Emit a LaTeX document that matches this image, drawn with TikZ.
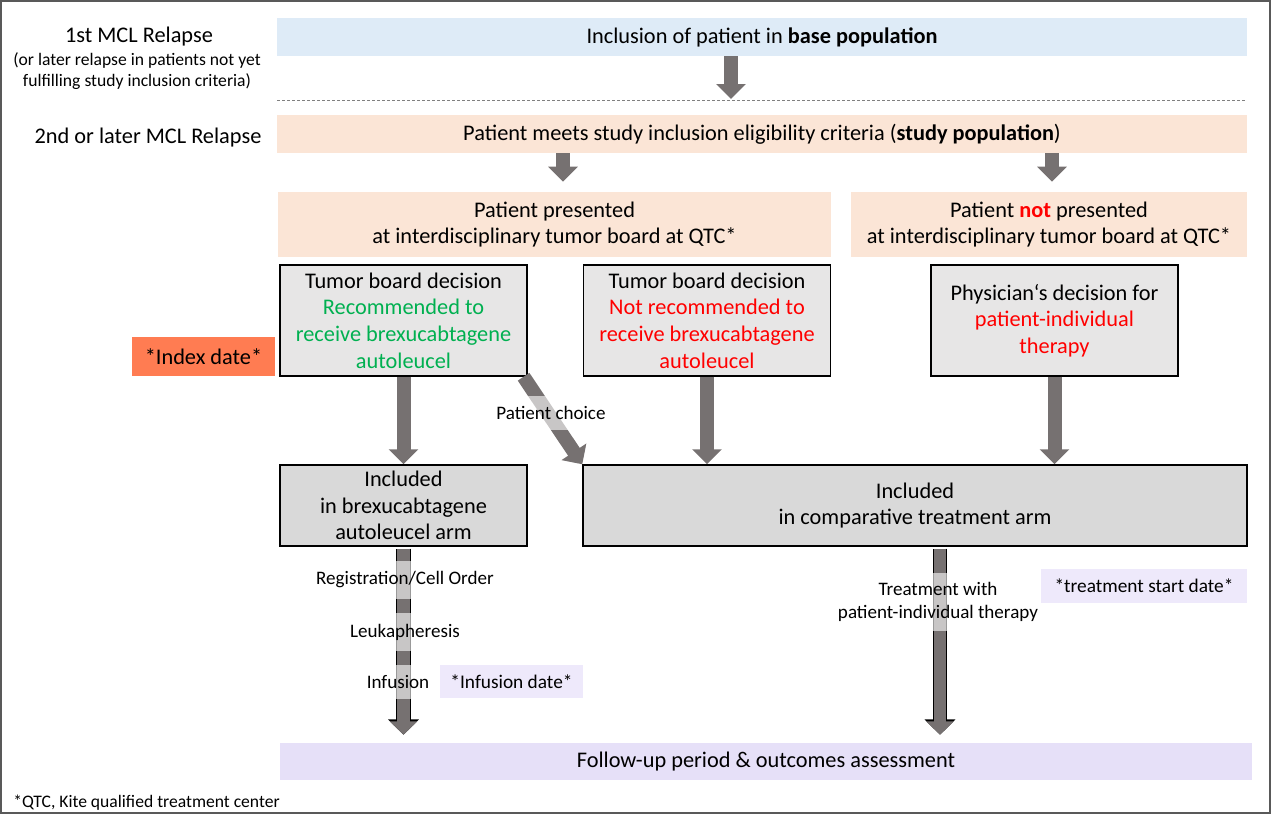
\documentclass[tikz,border=0pt]{standalone}
\usepackage{fontspec}
\setmainfont{Carlito}
\usetikzlibrary{arrows.meta,calc}

\definecolor{basebl}{HTML}{DEEBF7}
\definecolor{studyor}{HTML}{FBE5D6}
\definecolor{boxlight}{HTML}{E7E6E6}
\definecolor{boxdark}{HTML}{D9D9D9}
\definecolor{indexor}{HTML}{FF7C52}
\definecolor{fuviolet}{HTML}{E6E0F8}
\definecolor{dateviolet}{HTML}{EEE9FB}
\definecolor{arrowgray}{HTML}{767171}
\definecolor{recgreen}{HTML}{00B050}
\definecolor{notred}{HTML}{FF0000}

\begin{document}
\begin{tikzpicture}
    [x=0.75pt,y=-0.75pt,
     every node/.style={font=\fontsize{16.75}{20}\selectfont,align=center,inner sep=0pt},
     bar/.style={rectangle,minimum height=28.5pt},
     decbox/.style={rectangle,draw=black,line width=1.1pt,fill=boxlight,minimum width=185pt,minimum height=83.25pt},
     armbox/.style={rectangle,draw=black,line width=1.1pt,fill=boxdark,minimum height=60.75pt},
     datebox/.style={rectangle,fill=dateviolet,minimum height=25pt,font=\fontsize{14.5}{17}\selectfont},
     note/.style={font=\fontsize{13.2}{15.75}\selectfont},
     lbl/.style={font=\fontsize{14.3}{17.25}\selectfont,fill=white,fill opacity=0.6,text opacity=1,inner xsep=1pt},
     fat/.style={draw=arrowgray,line width=10.5pt,-{Triangle[width=21.75pt,length=11.25pt]}},
     fatout/.style={draw=arrowgray,line width=9.5pt,-{Triangle[width=20pt,length=10pt]},
        preaction={draw=black,line width=11pt,-{Triangle[width=22.5pt,length=11.5pt]}}}]
    \useasboundingbox (0,0) rectangle (1271,814);
    \draw[black!65,line width=0.8pt] (1,1) rectangle (1270,813);

    % relapse labels
    \node (rel1) at (139,37) {1st MCL Relapse};
    \node[note] (rel1note) at (137,71) {(or later relapse in patients not yet\\fulfilling study inclusion criteria)};
    \node (rel2) at (148,138) {2nd or later MCL Relapse};
    \coordinate (dashL) at (277,100);
    \coordinate (dashR) at (1247,100);
    \draw[black!50,line width=0.75pt,dash pattern=on 2.25pt off 1.5pt] (dashL) -- (dashR);

    % populations
    \node[bar,fill=basebl,minimum width=727.5pt] (base) at (762,37) {Inclusion of patient in \textbf{base population}};
    \node[bar,fill=studyor,minimum width=727.5pt] (study) at (762,134) {Patient meets study inclusion eligibility criteria (\textbf{study population})};
    \node[rectangle,fill=studyor,minimum width=414.75pt,minimum height=48.75pt] (pres) at (554.5,224.5) {Patient presented\\at interdisciplinary tumor board at QTC*};
    \node[rectangle,fill=studyor,minimum width=297pt,minimum height=48.75pt] (notpres) at (1049,224.5) {Patient \textcolor{notred}{\textbf{not}} presented\\at interdisciplinary tumor board at QTC*};

    % decisions
    \node[decbox,text=recgreen] (rec) at (403.5,320.5) {\textcolor{black}{Tumor board decision}\\Recommended to\\receive brexucabtagene\\autoleucel};
    \node[decbox,text=notred] (norec) at (707,320.5) {\textcolor{black}{Tumor board decision}\\Not recommended to\\receive brexucabtagene\\autoleucel};
    \node[decbox,text=notred] (phys) at (1054.5,320.5) {\textcolor{black}{Physician‘s decision for}\\patient-individual\\therapy};
    \node[rectangle,fill=indexor,minimum width=107.25pt,minimum height=29.25pt] (index) at (203.5,356.5) {*Index date*};

    % arms
    \node[armbox,minimum width=185pt] (brexarm) at (403.5,505.5) {Included\\in brexucabtagene\\autoleucel arm};
    \node[armbox,minimum width=498pt] (comparm) at (915,505.5) {Included\\in comparative treatment arm};
    \node[bar,fill=fuviolet,minimum width=729pt,minimum height=27.75pt] (follow) at (766,761.5) {Follow-up period \& outcomes assessment};

    % arrows
    \coordinate (d1) at (731,99);
    \draw[fat] (base.south -| d1) -- (d1);
    \draw[fat] ([xshift=6.4pt]study.south -| pres.north) -- ([xshift=6.4pt,yshift=7.5pt]pres.north);
    \draw[fat] ([xshift=2.25pt]study.south -| notpres.north) -- ([xshift=2.25pt,yshift=7.5pt]notpres.north);
    \draw[fat] (rec.south) -- (brexarm.north);
    \draw[fat] (norec.south) -- (norec.south |- comparm.north);
    \draw[fat] (phys.south) -- (phys.south |- comparm.north);
    \draw[fat] ([xshift=-3pt]rec.south east) -- (comparm.north west);
    \draw[fatout] ($(brexarm.south)+(0,2)$) -- ($(brexarm.south |- follow.north)+(0,-8)$);
    \draw[fatout] ($(comparm.south)+(25,2)$) -- ($(comparm.south |- follow.north)+(25,-8)$);

    % arrow labels
    \node[lbl,minimum height=26pt] (choice) at (551,413) {Patient choice};
    \node[lbl,minimum height=28.5pt] (reg) at (405,580) {Registration/Cell Order};
    \node[lbl,minimum height=28.5pt] (leuk) at (405,632) {Leukapheresis};
    \node[lbl,minimum height=26pt] (inf) at (398,682) {Infusion};
    \node[lbl,minimum height=44pt] (treat) at (938,602) {Treatment with\\patient-individual therapy};
    \node[datebox,minimum width=107.25pt] (infdate) at (511.5,681.5) {*Infusion date*};
    \node[datebox,minimum width=154.5pt] (tsdate) at (1144,586) {*treatment start date*};

    \node[note,anchor=west] (qtc) at (13,803) {*QTC, Kite qualified treatment center};
\end{tikzpicture}
\end{document}
